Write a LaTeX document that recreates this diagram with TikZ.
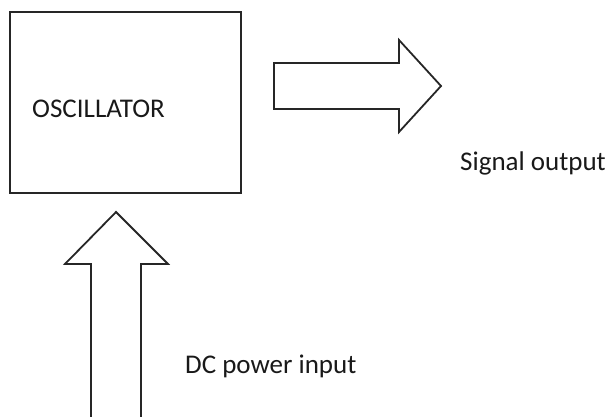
\documentclass[tikz,border=0pt]{standalone}
\usepackage{fontspec}
\setmainfont{Carlito}
\usetikzlibrary{positioning}

\begin{document}
\begin{tikzpicture}[
  x=1pt, y=-1pt,
  every node/.style={
    inner sep=0pt,
    font=\fontsize{27}{31}\selectfont,
    text=black!90
  },
  blockbox/.style={draw=black!85, line width=2pt},
  blockarrow/.style={draw=black!85, line width=1.8pt, line join=miter}
]
\useasboundingbox (0,0) rectangle (607,416);

% Oscillator block
\node (osc) [blockbox, minimum width=231pt, minimum height=181pt] at (125.5,102.5) {};
\node (osclabel) [anchor=base west] at (32,117) {OSCILLATOR};

% Output arrow
\draw[blockarrow] (274,63) -- (399,63) -- (399,40) -- (441,86)
  -- (399,132) -- (399,109) -- (274,109) -- cycle;
\node (sigout) [anchor=base west] at (460,170) {Signal output};

% Power arrow
\draw[blockarrow] (91,417) -- (91,264) -- (65,264) -- (116,212)
  -- (168,264) -- (141,264) -- (141,417);
\node (dcin) [anchor=base west] at (185,373) {DC power input};

\end{tikzpicture}
\end{document}
